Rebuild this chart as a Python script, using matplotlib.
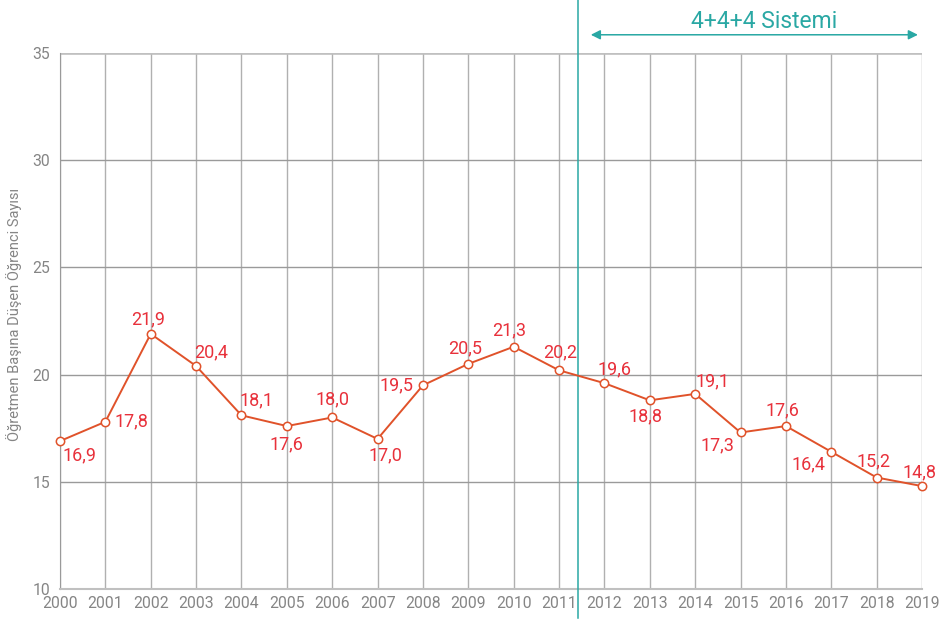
import matplotlib
matplotlib.use('Agg')
import numpy as np
import matplotlib.pyplot as plt

years = list(range(2000, 2020))
values = [16.9, 17.8, 21.9, 20.4, 18.1, 17.6, 18.0, 17.0, 19.5, 20.5,
          21.3, 20.2, 19.6, 18.8, 19.1, 17.3, 17.6, 16.4, 15.2, 14.8]
yticks = [10, 15, 20, 25, 30, 35]
ylabel = 'Öğretmen Başına Düşen Öğrenci Sayısı'
period_label = '4+4+4 Sistemi'
period_start = 2011.42

# label offsets in pixels (dx, dy) relative to each point
label_offsets = [(19, -14), (26, 0), (-3, 15), (15, 14), (15, 15), (0, -18),
                 (0, 18), (8, -16), (-26, 0), (-3, 16), (-5, 16), (1, 18),
                 (10, 14), (-4, -16), (17, 13), (-23, -13), (-3, 16),
                 (-23, -13), (-3, 16), (-2, 14)]

line_col = '#e0522a'
label_col = '#e8313b'
teal = '#2aa8a4'
grey_txt = '#858585'

plt.rcParams['font.family'] = ['Roboto', 'DejaVu Sans']

fig = plt.figure(figsize=(9.4, 6.22), dpi=100)
ax = fig.add_axes([60/940, 33/622, 862/940, 536/622])

ax.plot(years, values, color=line_col, linewidth=1.4, marker='o',
        markersize=6, markerfacecolor='white', markeredgecolor=line_col,
        markeredgewidth=1.1, clip_on=False, zorder=5)

for x, v, (dx, dy) in zip(years, values, label_offsets):
    ax.annotate(f'{v:.1f}'.replace('.', ','), (x, v), xytext=(dx, dy),
                textcoords='offset pixels', ha='center', va='center',
                fontsize=13, color=label_col, zorder=6)

ax.set_xlim(2000, 2019)
ax.set_ylim(10, 35)
ax.set_xticks(years)
ax.set_xticklabels([str(y) for y in years])
ax.set_yticks(yticks)
ax.tick_params(axis='both', length=0, labelsize=11.3, labelcolor=grey_txt)
ax.tick_params(axis='x', pad=5)
ax.tick_params(axis='y', pad=7)

ax.grid(axis='y', color='#9a9a9a', linewidth=1)
ax.grid(axis='x', color='#b0b0b0', linewidth=1)
ax.set_axisbelow(True)
for s in ['top', 'right']:
    ax.spines[s].set_visible(False)
ax.spines['left'].set_color('#9a9a9a')
ax.spines['bottom'].set_color('#c0c0c0')
ax.spines['bottom'].set_linewidth(1.5)
ax.axhline(35, color='#c0c0c0', linewidth=1.8, zorder=1)

fig.text(14/940, 1 - 314/622, ylabel, rotation=90, ha='center', va='center',
         fontsize=10.5, color=grey_txt)

ax.axvline(period_start, ymin=-0.054, ymax=1.1, color=teal, linewidth=1.1,
           clip_on=False, zorder=4)
ax.annotate('', xy=(2018.91, 1.034), xytext=(2011.7, 1.034),
            xycoords=('data', 'axes fraction'),
            textcoords=('data', 'axes fraction'),
            arrowprops=dict(arrowstyle='<|-|>', color=teal, lw=1.1,
                            mutation_scale=14, shrinkA=0, shrinkB=0),
            annotation_clip=False)
ax.text(2015.52, 1.059, period_label, transform=ax.get_xaxis_transform(),
        ha='center', va='center', fontsize=16.5, color=teal)

fig.savefig('out.png', dpi=100)
